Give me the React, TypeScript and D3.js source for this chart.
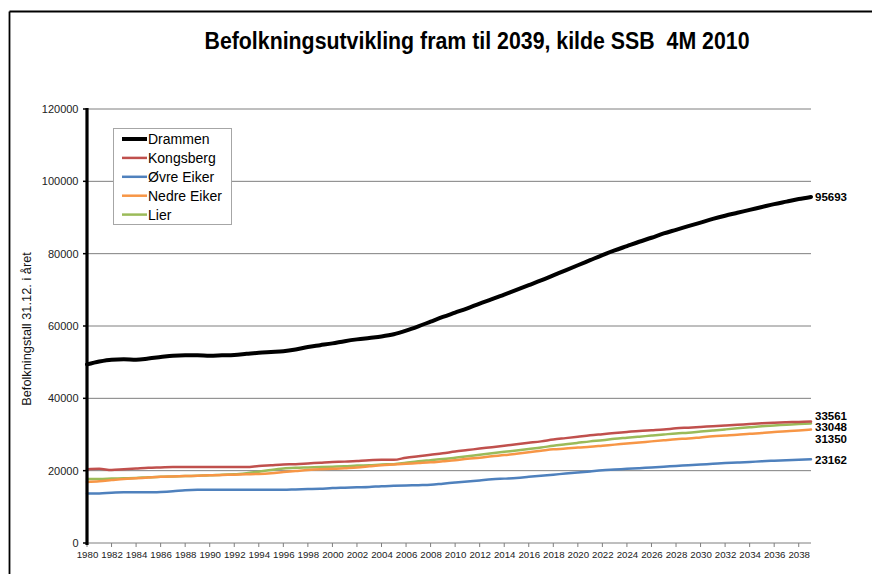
import React from "react";
import * as d3 from "d3";

const years: number[] = d3.range(1980, 2040);

const drammen = [49400, 50200, 50700, 50800, 50700, 51000, 51400, 51800, 51900, 51900, 51800, 51900, 52000, 52300, 52600, 52800, 53000, 53500, 54200, 54700, 55200, 55800, 56300, 56700, 57100, 57700, 58700, 59900, 61200, 62500, 63700, 64900, 66200, 67400, 68700, 70000, 71300, 72600, 74000, 75400, 76800, 78200, 79600, 80900, 82100, 83300, 84400, 85600, 86600, 87600, 88600, 89600, 90500, 91300, 92100, 92900, 93700, 94400, 95100, 95693];
const kongsberg = [20400, 20500, 20200, 20400, 20600, 20800, 20900, 21000, 21000, 21000, 21000, 21000, 21000, 21000, 21300, 21500, 21700, 21800, 22000, 22200, 22400, 22500, 22700, 22900, 23000, 23000, 23600, 24000, 24400, 24800, 25300, 25700, 26100, 26500, 26900, 27300, 27700, 28100, 28600, 29000, 29400, 29800, 30100, 30400, 30700, 31000, 31200, 31400, 31700, 31900, 32100, 32300, 32500, 32700, 32900, 33100, 33250, 33380, 33480, 33561];
const ovreEiker = [13700, 13700, 13900, 14000, 14000, 14000, 14100, 14300, 14600, 14700, 14700, 14700, 14700, 14700, 14700, 14700, 14700, 14800, 14900, 15000, 15200, 15300, 15400, 15500, 15700, 15800, 15900, 16000, 16100, 16400, 16700, 17000, 17300, 17600, 17800, 18000, 18300, 18600, 18900, 19200, 19500, 19800, 20100, 20300, 20500, 20700, 20900, 21100, 21300, 21500, 21700, 21900, 22100, 22250, 22400, 22600, 22750, 22900, 23050, 23162];
const nedreEiker = [16900, 17100, 17400, 17700, 17900, 18100, 18300, 18400, 18500, 18600, 18700, 18800, 18900, 19000, 19100, 19300, 19600, 19900, 20200, 20400, 20500, 20700, 20900, 21200, 21500, 21700, 21900, 22100, 22300, 22600, 22900, 23300, 23600, 24000, 24300, 24700, 25100, 25500, 25900, 26100, 26400, 26600, 26900, 27200, 27500, 27800, 28100, 28400, 28700, 28900, 29200, 29500, 29700, 29900, 30200, 30400, 30700, 30900, 31100, 31350];
const lier = [17700, 17700, 17800, 17900, 18000, 18200, 18300, 18400, 18500, 18600, 18700, 18900, 19000, 19300, 19700, 20200, 20600, 20800, 20900, 21000, 21100, 21200, 21400, 21500, 21700, 21800, 22200, 22600, 22900, 23200, 23600, 24000, 24400, 24800, 25200, 25600, 26000, 26400, 26900, 27300, 27700, 28100, 28400, 28800, 29100, 29400, 29700, 30000, 30300, 30500, 30800, 31100, 31400, 31700, 32000, 32300, 32500, 32700, 32900, 33048];

const seriesNames = ["Drammen", "Kongsberg", "Øvre Eiker", "Nedre Eiker", "Lier"];
const seriesValues = [drammen, kongsberg, ovreEiker, nedreEiker, lier];
const seriesColors = ["#000000", "#C0504D", "#4F81BD", "#F79646", "#9BBB59"];
const seriesWidths = [4, 2.5, 2.5, 2.5, 2.5];

const yTicks = [0, 20000, 40000, 60000, 80000, 100000, 120000];
const xTickYears = years.filter((y) => y % 2 === 0);

const title = "Befolkningsutvikling fram til 2039, kilde SSB  4M 2010";
const yTitle = "Befolkningstall 31.12. i året";

export default function App() {
  const W = 872;
  const H = 574;
  const x = d3.scaleLinear().domain([1980, 2039]).range([87, 811]);
  const y = d3.scaleLinear().domain([0, 120000]).range([543, 109]);
  const line = d3
    .line<number>()
    .x((_, i) => x(years[i]))
    .y((v) => y(v))
    .curve(d3.curveMonotoneX);

  // end labels with simple overlap resolution
  const ends = seriesValues.map((vals, i) => ({
    i,
    v: vals[vals.length - 1],
    y: y(vals[vals.length - 1]),
  }));
  const sorted = [...ends].sort((a, b) => a.y - b.y);
  const gap = 11.6;
  const clusters: { items: typeof ends }[] = [];
  sorted.forEach((e) => {
    const last = clusters[clusters.length - 1];
    if (last && e.y - last.items[last.items.length - 1].y < gap) last.items.push(e);
    else clusters.push({ items: [e] });
  });
  const labelY: Record<number, number> = {};
  clusters.forEach((c) => {
    const mean = d3.mean(c.items, (d) => d.y) as number;
    const n = c.items.length;
    c.items.forEach((e, k) => {
      labelY[e.i] = mean + (k - (n - 1) / 2) * gap + (n > 1 ? 2.5 : 0.5);
    });
  });

  const legendX = 113;
  const legendY = 128;
  const rowH = 18.9;

  return (
    <svg
      width={W}
      height={H}
      style={{ position: "absolute", left: 0, top: 0, background: "#fff" }}
      fontFamily="'Liberation Sans', Arial, sans-serif"
    >
      <rect x={0} y={0} width={W} height={H} fill="#fff" />
      {/* frame */}
      <line x1={9.5} y1={11.5} x2={W} y2={11.5} stroke="#000" strokeWidth={1.8} />
      <line x1={9.5} y1={11.5} x2={9.5} y2={H} stroke="#000" strokeWidth={1.8} />

      {/* title */}
      <text
        x={477}
        y={49}
        textAnchor="middle"
        fontSize={23}
        fontWeight="bold"
        textLength={545}
        lengthAdjust="spacingAndGlyphs"
        fill="#000"
        style={{ whiteSpace: "pre" }}
      >
        {title}
      </text>

      {/* grid */}
      {yTicks.filter((t) => t > 0).map((t) => (
        <line key={t} x1={x(1980)} x2={x(2039)} y1={y(t)} y2={y(t)} stroke="#7f7f7f" strokeWidth={1} />
      ))}
      {/* x axis */}
      <line x1={x(1980)} x2={x(2039)} y1={y(0)} y2={y(0)} stroke="#7f7f7f" strokeWidth={1} />
      {xTickYears.map((yr) => (
        <g key={yr}>
          <line x1={x(yr)} x2={x(yr)} y1={y(0)} y2={y(0) + 4} stroke="#7f7f7f" strokeWidth={1} />
          <text x={x(yr) + 0.5} y={557.5} fontSize={9.7} textAnchor="middle" fill="#222">
            {yr}
          </text>
        </g>
      ))}
      {/* y axis labels & ticks */}
      {yTicks.map((t) => (
        <g key={t}>
          <line x1={83} x2={87} y1={y(t)} y2={y(t)} stroke="#000" strokeWidth={1.5} />
          <text x={78.5} y={y(t) + 4} fontSize={11} textAnchor="end" fill="#222">
            {t}
          </text>
        </g>
      ))}
      <text
        transform={`translate(30.5,${329}) rotate(-90)`}
        textAnchor="middle"
        fontSize={12.8}
        fill="#111"
      >
        {yTitle}
      </text>

      {/* series */}
      {seriesValues
        .map((vals, i) => ({ vals, i }))
        .reverse()
        .map(({ vals, i }) => (
          <path
            key={i}
            d={line(vals) as string}
            fill="none"
            stroke={seriesColors[i]}
            strokeWidth={seriesWidths[i]}
            strokeLinejoin="round"
            strokeLinecap="round"
          />
        ))}

      {/* y axis line (thick) */}
      <line x1={87} x2={87} y1={y(120000) - 1} y2={y(0) + 2} stroke="#000" strokeWidth={3.2} />

      {/* end labels */}
      {ends.map((e) => (
        <text
          key={e.i}
          x={815}
          y={labelY[e.i] + 4}
          fontSize={11.5}
          fontWeight="bold"
          fill="#000"
        >
          {e.v}
        </text>
      ))}

      {/* legend */}
      <rect
        x={legendX + 0.5}
        y={legendY + 0.5}
        width={118}
        height={96}
        fill="#fff"
        stroke="#a6a6a6"
        strokeWidth={1}
      />
      {seriesNames.map((name, i) => (
        <g key={name}>
          <line
            x1={legendX + 9}
            x2={legendX + 34}
            y1={legendY + 11 + i * rowH}
            y2={legendY + 11 + i * rowH}
            stroke={seriesColors[i]}
            strokeWidth={seriesWidths[i]}
          />
          <text x={legendX + 35} y={legendY + 11 + i * rowH + 5} fontSize={14} fill="#000">
            {name}
          </text>
        </g>
      ))}
    </svg>
  );
}
